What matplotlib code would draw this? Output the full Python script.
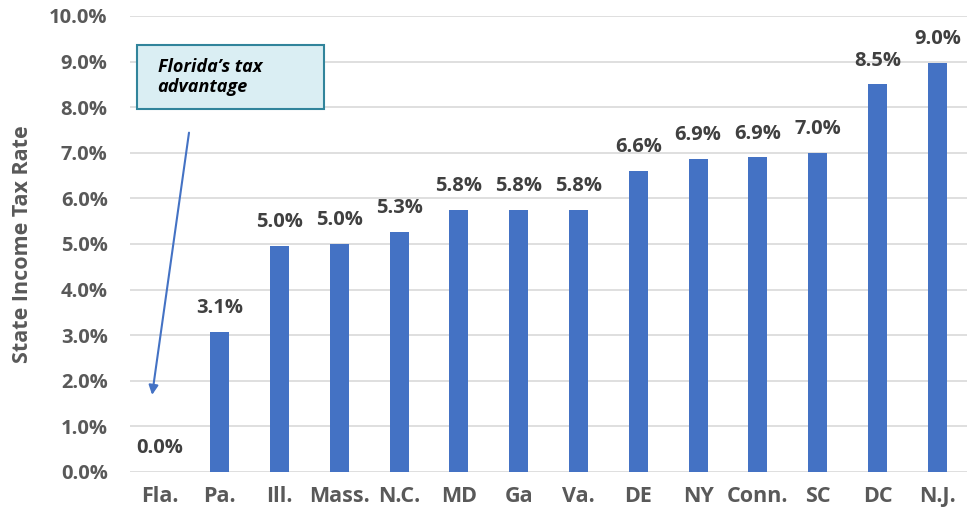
import matplotlib.pyplot as plt
from matplotlib.patches import FancyBboxPatch
import numpy as np

plt.rcParams['font.family'] = ['Open Sans', 'DejaVu Sans']

states = ['Fla.', 'Pa.', 'Ill.', 'Mass.', 'N.C.', 'MD', 'Ga', 'Va.', 'DE', 'NY',
          'Conn.', 'SC', 'DC', 'N.J.']
rates = [0.0, 3.07, 4.96, 5.0, 5.26, 5.75, 5.75, 5.75, 6.6, 6.86, 6.9, 7.0, 8.5, 8.97]
yticks = np.arange(0, 10.01, 1.0)

fig = plt.figure(figsize=(9.77, 5.13), dpi=100)
ax = fig.add_axes([0.133, 0.08, 0.857, 0.889])

x = np.arange(len(states))
ax.bar(x, rates, width=0.32, color='#4472C4', zorder=3)

for xi, r in zip(x, rates):
    ax.text(xi, r + 0.3, f'{r:.1f}%', ha='center', va='bottom',
            fontsize=14.5, fontweight='bold', color='#404040')

ax.set_xlim(-0.5, len(states) - 0.5)
ax.set_ylim(0, 10)
ax.set_yticks(yticks)
ax.set_yticklabels([f'{t:.1f}%' for t in yticks])
ax.set_xticks(x)
ax.set_xticklabels(states)
ax.yaxis.grid(True, color='#D9D9D9', linewidth=1.2, zorder=0)
for s in ax.spines.values():
    s.set_visible(False)
ax.tick_params(axis='both', length=0, labelcolor='#595959')
ax.tick_params(axis='y', pad=16, labelsize=14.5)
ax.tick_params(axis='x', pad=10, labelsize=15.5)
for lab in ax.get_xticklabels() + ax.get_yticklabels():
    lab.set_fontweight('bold')
ax.set_ylabel('State Income Tax Rate', fontsize=15.5, fontweight='bold',
              color='#595959')
ax.yaxis.set_label_coords(-0.116, 0.5)

# annotation box
box = FancyBboxPatch((0.008, 0.795), 0.224, 0.142, boxstyle='square,pad=0',
                     transform=ax.transAxes, facecolor='#DAEEF3',
                     edgecolor='#31849B', linewidth=1.5, zorder=4)
ax.add_patch(box)
ax.text(0.033, 0.866, "Florida\u2019s tax\nadvantage", transform=ax.transAxes,
        ha='left', va='center', fontsize=13, fontweight='bold',
        fontstyle='italic', color='black', zorder=5, linespacing=1.15)
ax.annotate('', xy=(0.026, 0.163), xytext=(0.071, 0.75),
            xycoords='axes fraction',
            arrowprops=dict(arrowstyle='-|>', color='#4472C4', lw=1.5,
                            mutation_scale=14), zorder=5)

fig.savefig('out.png', dpi=100)
